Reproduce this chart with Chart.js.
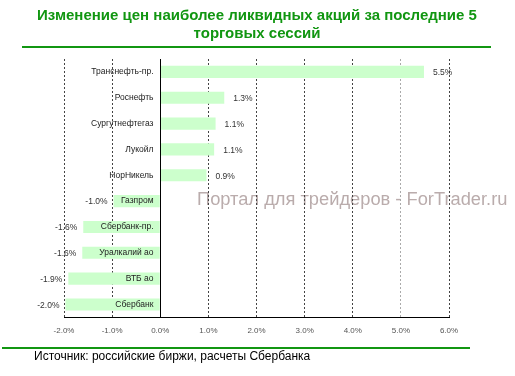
<!DOCTYPE html>
<html>
<head>
<meta charset="utf-8">
<script src="https://cdn.jsdelivr.net/npm/chart.js@4"></script>
<style>
  html, body { margin: 0; padding: 0; background: #fff; }
  #chart { display: block; }
</style>
</head>
<body>
<canvas id="chart" width="515" height="376"></canvas>
<script>
// данные
const stocks = ['Транснефть-пр.', 'Роснефть', 'Сургутнефтегаз', 'Лукойл', 'НорНикель',
    'Газпром', 'Сбербанк-пр.', 'Уралкалий ао', 'ВТБ ао', 'Сбербанк'];
const changes = [5.48, 1.33, 1.15, 1.12, 0.96, -0.97, -1.6, -1.62, -1.91, -1.97];
const changeLabels = ['5.5%', '1.3%', '1.1%', '1.1%', '0.9%', '-1.0%', '-1.6%', '-1.6%', '-1.9%', '-2.0%'];
const xTicks = [-2, -1, 0, 1, 2, 3, 4, 5, 6];

const titleLines = ['Изменение цен наиболее ликвидных акций за последние 5', 'торговых сессий'];
const sourceText = 'Источник: российские биржи, расчеты Сбербанка';
const watermark = 'Портал для трейдеров - ForTrader.ru';

const green = '#119611';

// подписи, линии и водяной знак
const decor = {
    id: 'decor',
    beforeDraw(chart) {
        const ctx = chart.ctx;
        ctx.save();
        ctx.fillStyle = '#fff';
        ctx.fillRect(0, 0, chart.width, chart.height);

        // водяной знак
        ctx.font = '18.3px "Liberation Sans", Arial, sans-serif';
        ctx.fillStyle = 'rgb(186,172,172)';
        ctx.textAlign = 'left';
        ctx.textBaseline = 'alphabetic';
        ctx.fillText(watermark, 197, 205);

        // заголовок
        ctx.font = 'bold 15px "Liberation Sans", Arial, sans-serif';
        ctx.fillStyle = green;
        ctx.textAlign = 'center';
        ctx.textBaseline = 'middle';
        ctx.fillText(titleLines[0], 257, 16);
        ctx.fillText(titleLines[1], 257, 34);

        ctx.fillStyle = green;
        ctx.fillRect(22, 46, 469, 2);
        ctx.fillRect(2, 347, 468, 2);

        ctx.font = '12px "Liberation Sans", Arial, sans-serif';
        ctx.fillStyle = '#000';
        ctx.textAlign = 'left';
        ctx.fillText(sourceText, 34, 357);
        ctx.restore();
    },
    afterDatasetsDraw(chart) {
        const ctx = chart.ctx;
        const x = chart.scales.x;
        const area = chart.chartArea;
        const meta = chart.getDatasetMeta(0);
        ctx.save();

        // нулевая ось
        const x0 = Math.round(x.getPixelForValue(0)) + 0.5;
        ctx.strokeStyle = '#000';
        ctx.lineWidth = 1;
        ctx.beginPath();
        ctx.moveTo(x0, area.top);
        ctx.lineTo(x0, area.bottom);
        ctx.stroke();

        ctx.font = '8.5px "Liberation Sans", Arial, sans-serif';
        ctx.textBaseline = 'middle';
        meta.data.forEach((bar, i) => {
            // названия акций
            ctx.fillStyle = '#222';
            ctx.textAlign = 'right';
            ctx.fillText(stocks[i], x0 - 7, bar.y);
            // значения
            ctx.fillStyle = '#333';
            if (changes[i] >= 0) {
                ctx.textAlign = 'left';
                ctx.fillText(changeLabels[i], bar.x + 9, bar.y + 1);
            } else {
                ctx.textAlign = 'right';
                ctx.fillText(changeLabels[i], bar.x - 6, bar.y + 1);
            }
        });
        ctx.restore();
    }
};

new Chart(document.getElementById('chart'), {
    type: 'bar',
    data: {
        labels: stocks,
        datasets: [{
            data: changes,
            backgroundColor: '#ccffcc',
            borderWidth: 0,
            categoryPercentage: 1,
            barPercentage: 0.47
        }]
    },
    options: {
        indexAxis: 'y',
        responsive: false,
        animation: false,
        layout: { padding: { left: 64, right: 66, top: 59, bottom: 31 } },
        plugins: {
            legend: { display: false },
            tooltip: { enabled: false }
        },
        scales: {
            x: {
                min: -2,
                max: 6,
                afterBuildTicks: (scale) => { scale.ticks = xTicks.map(v => ({ value: v })); },
                ticks: {
                    color: '#555',
                    font: { size: 8, family: '"Liberation Sans", Arial, sans-serif' },
                    padding: 9,
                    callback: (v) => Number(v).toFixed(1) + '%'
                },
                grid: {
                    drawTicks: false,
                    color: (c) => c.tick && c.tick.value === 5 ? '#aaa' : (c.tick && c.tick.value === 0 ? 'rgba(0,0,0,0)' : '#444')
                },
                border: { display: true, color: '#000', width: 1, dash: [2, 2] }
            },
            y: {
                display: false
            }
        }
    },
    plugins: [decor]
});
</script>
</body>
</html>
